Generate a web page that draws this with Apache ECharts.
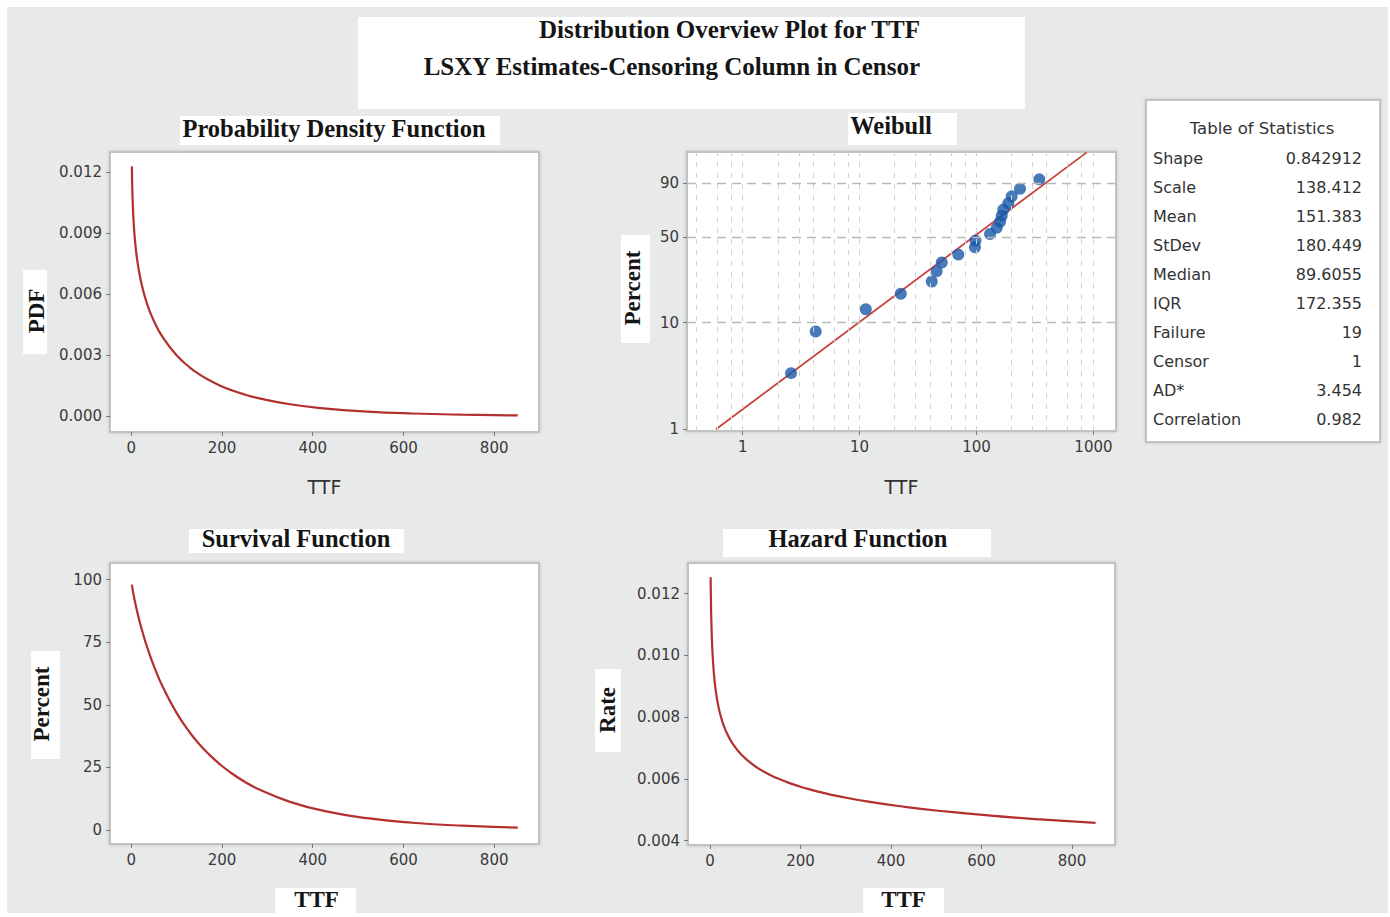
<!DOCTYPE html>
<html>
<head>
<meta charset="utf-8">
<script src="https://cdn.jsdelivr.net/npm/echarts@6/dist/echarts.min.js"></script>
<style>
html,body{margin:0;padding:0;background:#ffffff;}
#bg{position:absolute;left:7px;top:7px;width:1381px;height:906px;background:#e8e9e9;}
#chart{position:absolute;left:0;top:0;width:1390px;height:917px;}
</style>
</head>
<body>
<div id="bg"></div>
<div id="chart"></div>
<script>
// ---------- data ----------
const curveTime = [1.4, 2, 3, 5, 8, 12, 18, 25, 35, 50, 70, 100, 130, 150, 170, 195, 220, 250, 280, 350, 430, 520, 620, 730, 852];
const pdfValues = [0.012274, 0.011520, 0.010686, 0.0096542, 0.0087060, 0.0078732, 0.0070137, 0.0062911, 0.0055220, 0.0046771, 0.0038605, 0.0029962, 0.0023820, 0.0020624, 0.0017953, 0.0015186, 0.0012917, 0.0010701, 0.00089132, 0.00059162, 0.00037856, 0.00023388, 0.0001397, 0.000080757, 0.000044781];
const survivalPercent = [97.94, 97.23, 96.12, 94.10, 91.35, 88.05, 83.60, 78.95, 73.06, 65.45, 56.96, 46.75, 38.73, 34.30, 30.45, 26.32, 22.81, 19.28, 16.35, 11.24, 7.43, 4.73, 2.90, 1.72, 0.98];
const hazardRate = [0.012532, 0.011849, 0.011118, 0.010260, 0.0095300, 0.0089420, 0.0083900, 0.0079681, 0.0075579, 0.0071462, 0.0067782, 0.0064089, 0.0061502, 0.0060135, 0.0058964, 0.0057707, 0.0056624, 0.0055498, 0.0054518, 0.0052640, 0.0050966, 0.0049467, 0.0048119, 0.0046900, 0.0045775];

const failureTime = [2.59, 4.21, 11.3, 22.5, 41.4, 45.6, 50.4, 69.9, 97, 98, 130.5, 148.9, 158.9, 164.3, 169.6, 187.1, 200.0, 235.6, 344.5];
const failurePercent = [3.4, 8.3, 13.2, 18.1, 23.0, 27.9, 32.8, 37.7, 42.6, 47.5, 52.5, 57.4, 62.3, 67.2, 72.1, 77.0, 81.9, 86.8, 91.7];
const fitTime = [0.59, 876];
const fitPercent = [1.0, 98.9];

const linearTimeTicks = [0, 200, 400, 600, 800];
const pdfTicks = [0, 0.003, 0.006, 0.009, 0.012];
const survivalTicks = [0, 25, 50, 75, 100];
const hazardTicks = [0.004, 0.006, 0.008, 0.010, 0.012];
const weibullTimeTicks = [1, 10, 100, 1000];
const weibullPercentTicks = [1, 10, 50, 90];
const weibullTimeGrid = [0.4, 0.6, 0.8, 1, 2, 3, 4, 6, 8, 10, 20, 30, 40, 60, 80, 100, 200, 300, 400, 600, 800, 1000];
const weibullPercentGrid = [10, 50, 90];

const statNames = ['Shape', 'Scale', 'Mean', 'StDev', 'Median', 'IQR', 'Failure', 'Censor', 'AD*', 'Correlation'];
const statValues = ['0.842912', '138.412', '151.383', '180.449', '89.6055', '172.355', '19', '1', '3.454', '0.982'];

// ---------- scale helpers (Weibull probability paper) ----------
const wbl = p => Math.log(-Math.log(1 - p / 100));
const wblInv = v => 100 * (1 - Math.exp(-Math.exp(v)));

const SANS = "'DejaVu Sans', sans-serif";
const SERIF = "'Liberation Serif', 'Times New Roman', serif";
const labelColor = '#3a3a3a';
const curveColor = '#b3302f';

function axis(gi, min, max, ticks, fmt, extra) {
  return Object.assign({
    type: 'value', gridIndex: gi, min: min, max: max,
    axisLine: { show: false, onZero: false },
    axisTick: { show: true, customValues: ticks, length: 4, lineStyle: { color: '#777', width: 1 } },
    axisLabel: { customValues: ticks, formatter: fmt, color: labelColor, fontFamily: SANS, fontSize: 15, margin: 8 },
    splitLine: { show: false }
  }, extra || {});
}

const gridBase = { show: true, backgroundColor: '#ffffff', borderColor: '#c2c2c2', borderWidth: 2,
  shadowColor: 'rgba(0,0,0,0.18)', shadowBlur: 3, containLabel: false };

const fmtInt = v => String(Math.round(v));
const fmt3 = v => v.toFixed(3);

const option = {
  animation: false,
  backgroundColor: 'transparent',
  grid: [
    Object.assign({ left: 110, top: 152, width: 429, height: 280 }, gridBase),
    Object.assign({ left: 687, top: 152, width: 429, height: 279 }, gridBase),
    Object.assign({ left: 110, top: 563, width: 429, height: 281 }, gridBase),
    Object.assign({ left: 688, top: 563, width: 427, height: 282 }, gridBase)
  ],
  xAxis: [
    axis(0, -46.8, 898.8, linearTimeTicks, fmtInt, {
      name: 'TTF', nameLocation: 'middle', nameGap: 45,
      nameTextStyle: { fontFamily: SANS, fontSize: 19, color: '#333' } }),
    axis(1, -0.4765, 3.193, weibullTimeTicks.map(Math.log10), v => String(Math.round(Math.pow(10, v))), {
      name: 'TTF', nameLocation: 'middle', nameGap: 46,
      nameTextStyle: { fontFamily: SANS, fontSize: 19, color: '#333' } }),
    axis(2, -46.8, 898.8, linearTimeTicks, fmtInt),
    axis(3, -48.6, 895, linearTimeTicks, fmtInt)
  ],
  yAxis: [
    axis(0, -0.00077, 0.01298, pdfTicks, fmt3),
    axis(1, -4.64, 1.515, weibullPercentTicks.map(wbl), v => String(Math.round(wblInv(v)))),
    axis(2, -5.58, 106.6, survivalTicks, fmtInt),
    axis(3, 0.00386, 0.012995, hazardTicks, fmt3)
  ],
  series: [
    { name: 'PDF', type: 'line', xAxisIndex: 0, yAxisIndex: 0, symbol: 'none', smooth: 0.5,
      lineStyle: { color: curveColor, width: 2.2 }, data: curveTime.map((t, i) => [t, pdfValues[i]]) },
    { name: 'WeibullGrid', type: 'line', xAxisIndex: 1, yAxisIndex: 1, data: [], z: 1, silent: true,
      markLine: { silent: true, symbol: ['none', 'none'], label: { show: false }, animation: false,
        lineStyle: { type: [5, 6], color: '#d2d2d2', width: 1 },
        data: weibullTimeGrid.map(t => ({ xAxis: Math.log10(t) })).concat(
          weibullPercentGrid.map(p => ({ yAxis: wbl(p), lineStyle: { type: [9, 6], color: '#b9b9b9', width: 1.3 } }))) } },
    { name: 'Fit', type: 'line', xAxisIndex: 1, yAxisIndex: 1, symbol: 'none', z: 2,
      lineStyle: { color: '#c8433b', width: 1.8 }, data: fitTime.map((t, i) => [Math.log10(t), wbl(fitPercent[i])]) },
    { name: 'Failures', type: 'scatter', xAxisIndex: 1, yAxisIndex: 1, symbol: 'circle', symbolSize: 12, z: 3,
      itemStyle: { color: '#1a58a8' }, data: failureTime.map((t, i) => [Math.log10(t), wbl(failurePercent[i])]) },
    { name: 'Survival', type: 'line', xAxisIndex: 2, yAxisIndex: 2, symbol: 'none', smooth: 0.5,
      lineStyle: { color: curveColor, width: 2.2 }, data: curveTime.map((t, i) => [t, survivalPercent[i]]) },
    { name: 'Hazard', type: 'line', xAxisIndex: 3, yAxisIndex: 3, symbol: 'none', smooth: 0.5,
      lineStyle: { color: curveColor, width: 2.2 }, data: curveTime.map((t, i) => [t, hazardRate[i]]) }
  ],
  graphic: []
};

// ---------- annotation boxes (white label patches) ----------
function patch(x, y, w, h) {
  return { type: 'rect', silent: true, shape: { x: x, y: y, width: w, height: h }, style: { fill: '#ffffff' } };
}
function heading(text, x, y, size, align, rot) {
  return { type: 'text', silent: true, x: x, y: y, rotation: rot || 0,
    style: { text: text, fill: '#151515', fontFamily: SERIF, fontWeight: 'bold', fontSize: size,
      align: align || 'center', verticalAlign: 'middle' } };
}
const R = Math.PI / 2;
option.graphic.push(
  patch(358, 17, 667, 92),
  heading('Distribution Overview Plot for TTF', 920, 29, 25, 'right'),
  heading('LSXY Estimates-Censoring Column in Censor', 920, 66, 25, 'right'),
  patch(180, 116, 320, 29), heading('Probability Density Function', 334, 128, 24.5),
  patch(848, 113, 109, 32), heading('Weibull', 891, 125, 24.5),
  patch(189, 529, 215, 24), heading('Survival Function', 296, 538, 24.5),
  patch(723, 529, 268, 28), heading('Hazard Function', 858, 538, 24.5),
  patch(23, 270, 24, 84), heading('PDF', 36, 311, 23, 'center', R),
  patch(621, 235, 29, 108), heading('Percent', 632, 288, 23, 'center', R),
  patch(31, 651, 29, 108), heading('Percent', 41, 704, 23, 'center', R),
  patch(595, 669, 26, 83), heading('Rate', 607, 710, 23, 'center', R),
  patch(275, 888, 81, 25), heading('TTF', 316.5, 899, 23),
  patch(863, 888, 81, 25), heading('TTF', 903.5, 899, 23)
);

// ---------- table of statistics ----------
const tableChildren = [
  { type: 'rect', shape: { x: 1146, y: 100, width: 234, height: 342 },
    style: { fill: '#ffffff', stroke: '#c4c4c4', lineWidth: 2, shadowColor: 'rgba(0,0,0,0.18)', shadowBlur: 3 } },
  { type: 'text', x: 1262, y: 128, style: { text: 'Table of Statistics', fill: '#333', fontFamily: SANS, fontSize: 16.5, align: 'center', verticalAlign: 'middle' } }
];
statNames.forEach((n, i) => {
  const y = 158 + i * 29.1;
  tableChildren.push(
    { type: 'text', x: 1153, y: y, style: { text: n, fill: '#333', fontFamily: SANS, fontSize: 16, align: 'left', verticalAlign: 'middle' } },
    { type: 'text', x: 1362, y: y, style: { text: statValues[i], fill: '#333', fontFamily: SANS, fontSize: 16, align: 'right', verticalAlign: 'middle' } }
  );
});
option.graphic.push({ type: 'group', silent: true, children: tableChildren });

const chart = echarts.init(document.getElementById('chart'), null, { renderer: 'svg', width: 1390, height: 917 });
chart.setOption(option);
</script>
</body>
</html>
